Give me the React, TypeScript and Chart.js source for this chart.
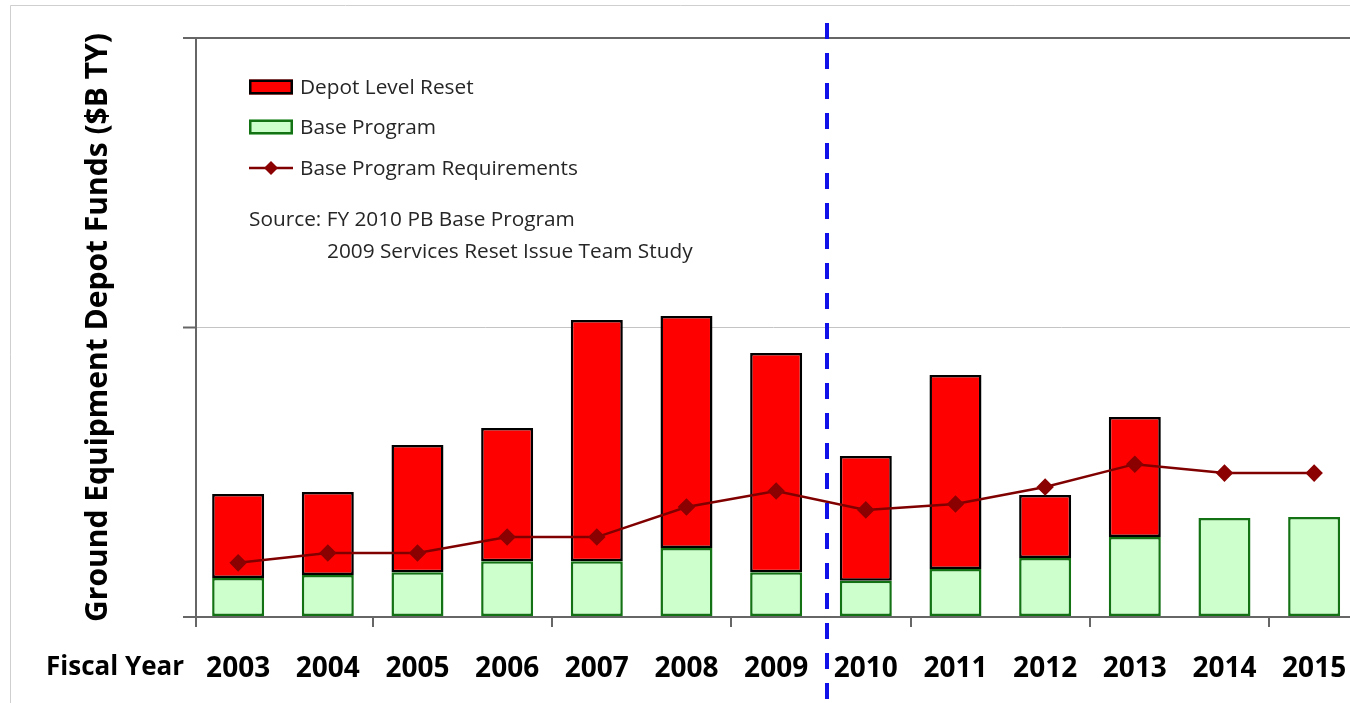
import React, { useEffect, useRef } from "react";
import { Chart, registerables } from "chart.js";

Chart.register(...registerables);

// ---- Data ($B TY) ----
const years = [2003, 2004, 2005, 2006, 2007, 2008, 2009, 2010, 2011, 2012, 2013, 2014, 2015];
const baseProgram = [0.135, 0.145, 0.155, 0.193, 0.193, 0.238, 0.155, 0.125, 0.166, 0.204, 0.276, 0.342, 0.345];
const depotLevelReset = [0.29, 0.287, 0.439, 0.46, 0.833, 0.802, 0.757, 0.431, 0.67, 0.217, 0.415, null, null];
const baseProgramRequirements = [0.187, 0.221, 0.221, 0.276, 0.276, 0.38, 0.435, 0.37, 0.39, 0.449, 0.528, 0.497, 0.497];
const yTicks = [0, 1, 2];
const dividerYear = 2009.57; // boundary between actuals (to 2009) and projections
const seriesLabels = ["Depot Level Reset", "Base Program", "Base Program Requirements"];
const sourceLines = ["Source: FY 2010 PB Base Program", "2009 Services Reset Issue Team Study"];
const yTitle = "Ground Equipment Depot Funds ($B TY)";
const xTitle = "Fiscal Year";

const FONT = '"Open Sans", "Noto Sans", sans-serif';

const decorations = {
  id: "decorations",
  afterDraw(chart: any) {
    const { ctx, chartArea, scales } = chart;
    const x = scales.x;
    const W = chart.width;
    const H = chart.height;
    ctx.save();

    // faint picture frame
    ctx.strokeStyle = "#cfcfcf";
    ctx.lineWidth = 1;
    ctx.beginPath();
    ctx.moveTo(10.5, H);
    ctx.lineTo(10.5, 5.5);
    ctx.lineTo(W, 5.5);
    ctx.stroke();

    // x tick marks every two categories
    ctx.strokeStyle = "#666666";
    ctx.lineWidth = 2;
    for (let i = 0; i < years.length; i += 2) {
      const px = Math.max(x.getPixelForValue(years[i] - 0.5), chartArea.left);
      ctx.beginPath();
      ctx.moveTo(Math.round(px), chartArea.bottom);
      ctx.lineTo(Math.round(px), chartArea.bottom + 10);
      ctx.stroke();
    }

    // "Fiscal Year"
    ctx.fillStyle = "#000";
    ctx.font = `bold 26px ${FONT}`;
    ctx.textAlign = "right";
    ctx.textBaseline = "middle";
    ctx.fillText(xTitle, chartArea.left - 12, chartArea.bottom + 51);

    // legend inside plot
    const ds = chart.data.datasets;
    const lx = chartArea.left + 53;
    const rows = [chartArea.top + 49, chartArea.top + 89, chartArea.top + 130];
    ctx.font = `20.8px ${FONT}`;
    ctx.textAlign = "left";
    ctx.textBaseline = "middle";
    for (let i = 0; i < 3; i++) {
      const d = ds[i];
      const cy = rows[i];
      if (d.type === "line") {
        ctx.strokeStyle = d.borderColor;
        ctx.lineWidth = 2.5;
        ctx.beginPath();
        ctx.moveTo(lx, cy);
        ctx.lineTo(lx + 44, cy);
        ctx.stroke();
        ctx.fillStyle = d.pointBackgroundColor;
        const r = 7;
        const cx = lx + 22;
        ctx.beginPath();
        ctx.moveTo(cx, cy - r);
        ctx.lineTo(cx + r, cy);
        ctx.lineTo(cx, cy + r);
        ctx.lineTo(cx - r, cy);
        ctx.closePath();
        ctx.fill();
      } else {
        ctx.fillStyle = d.backgroundColor;
        ctx.fillRect(lx, cy - 7.5, 44, 15);
        ctx.strokeStyle = d.borderColor;
        ctx.lineWidth = 2.5;
        ctx.strokeRect(lx + 1.25, cy - 6.25, 41.5, 12.5);
      }
      ctx.fillStyle = "#262626";
      ctx.fillText(d.label, lx + 51, cy + 1);
    }
    ctx.fillStyle = "#262626";
    ctx.fillText(sourceLines[0], lx, chartArea.top + 182);
    ctx.fillText(sourceLines[1], lx + 78, chartArea.top + 214);

    // blue dashed divider
    const dx = Math.round(x.getPixelForValue(dividerYear));
    ctx.strokeStyle = "#1010e8";
    ctx.lineWidth = 4;
    ctx.setLineDash([16, 14]);
    ctx.beginPath();
    ctx.moveTo(dx, 23);
    ctx.lineTo(dx, H);
    ctx.stroke();
    ctx.setLineDash([]);

    ctx.restore();
  },
};

export default function App() {
  const ref = useRef<HTMLCanvasElement | null>(null);

  useEffect(() => {
    if (!ref.current) return;
    const chart = new Chart(ref.current, {
      type: "bar",
      data: {
        datasets: [
          {
            type: "bar",
            label: seriesLabels[0],
            data: years.map((y, i) => ({ x: y, y: depotLevelReset[i] })),
            backgroundColor: "#ff0000",
            borderColor: "#000000",
            borderWidth: 2.5,
            borderSkipped: false,
            order: 2,
            categoryPercentage: 1,
            barPercentage: 0.58,
          },
          {
            type: "bar",
            label: seriesLabels[1],
            data: years.map((y, i) => ({ x: y, y: baseProgram[i] })),
            backgroundColor: "#ccffcc",
            borderColor: "#137213",
            borderWidth: 2.5,
            borderSkipped: false,
            order: 1,
            categoryPercentage: 1,
            barPercentage: 0.58,
          },
          {
            type: "line",
            label: seriesLabels[2],
            data: years.map((y, i) => ({ x: y, y: baseProgramRequirements[i] })),
            borderColor: "#800000",
            backgroundColor: "#800000",
            pointBackgroundColor: "#8b0000",
            pointBorderColor: "#8b0000",
            pointStyle: "rectRot",
            pointRadius: 7,
            borderWidth: 2.5,
            tension: 0,
            stack: "requirements",
            order: 0,
          } as any,
        ],
      },
      options: {
        animation: false,
        responsive: false,
        maintainAspectRatio: false,
        layout: { autoPadding: false, padding: { top: 38, left: 0, right: 0, bottom: 0 } },
        plugins: {
          legend: { display: false },
          tooltip: { enabled: false },
        },
        scales: {
          x: {
            type: "linear",
            stacked: true,
            offset: false,
            min: 2002.53,
            max: 2015.4,
            afterBuildTicks: (scale: any) => {
              scale.ticks = years.map((v) => ({ value: v }));
            },
            afterFit: (scale: any) => {
              scale.height = 86;
              scale.paddingLeft = 0;
              scale.paddingRight = 0;
            },
            grid: { display: false, drawTicks: false, offset: false },
            border: { display: false },
            ticks: {
              padding: 35,
              color: "#000",
              font: { family: FONT, size: 28, weight: "bold" },
              callback: (v: any) => String(v),
              autoSkip: false,
              maxRotation: 0,
            },
          },
          y: {
            stacked: true,
            min: yTicks[0],
            max: yTicks[yTicks.length - 1],
            afterBuildTicks: (scale: any) => {
              scale.ticks = yTicks.map((v) => ({ value: v }));
            },
            afterFit: (scale: any) => {
              scale.width = 196;
              scale.paddingTop = 0;
              scale.paddingBottom = 0;
            },
            ticks: { display: false },
            grid: {
              color: (c: any) => (c.tick && c.tick.value === 1 ? "#c4c4c4" : "#666666"),
              lineWidth: (c: any) => (c.tick && c.tick.value === 1 ? 1 : 2),
              tickColor: "#666666",
              tickWidth: 2,
              tickLength: 13,
              drawTicks: true,
            },
            border: { display: true, color: "#666666", width: 2 },
            title: {
              display: true,
              text: yTitle,
              color: "#000",
              font: { family: FONT, size: 30, weight: "bold" },
              padding: { top: 80, bottom: 0 },
            },
          },
        },
      },
      plugins: [decorations],
    } as any);
    return () => chart.destroy();
  }, []);

  return (
    <div style={{ position: "fixed", left: 0, top: 0, width: 1350, height: 703, background: "#fff" }}>
      <canvas ref={ref} width={1350} height={703} style={{ width: 1350, height: 703, display: "block" }} />
    </div>
  );
}
